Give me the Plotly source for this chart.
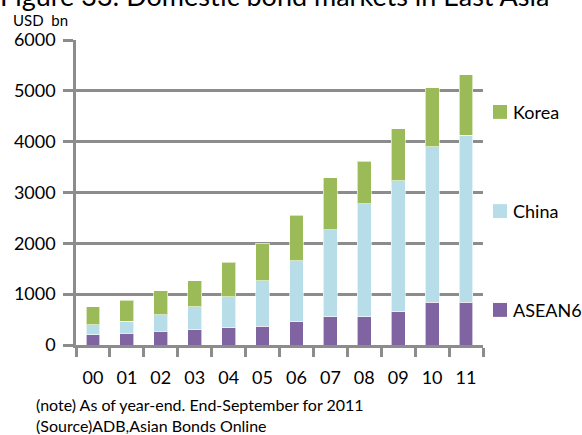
import plotly.graph_objects as go

years = ["00", "01", "02", "03", "04", "05", "06", "07", "08", "09", "10", "11"]
asean6 = [200, 235, 275, 300, 335, 365, 455, 560, 560, 655, 845, 845]
china = [200, 235, 325, 455, 615, 900, 1205, 1705, 2220, 2575, 3060, 3280]
korea = [355, 410, 470, 510, 675, 740, 890, 1025, 830, 1025, 1155, 1190]

series_names = ["ASEAN6", "China", "Korea"]
series_vals = [asean6, china, korea]
series_colors = ["#8064A2", "#B7DEE8", "#9BBB59"]
legend_values = [690, 2635, 4585]   # y level (data units) where each legend entry sits

FONT = "Lato, 'Open Sans', sans-serif"
GRID = "#8c8c8c"
W, H = 582, 435
L, R, T, B = 76, 99, 40, 90
PW, PH = W - L - R, H - T - B

fig = go.Figure()
for name, vals, col in zip(series_names, series_vals, series_colors):
    fig.add_trace(go.Bar(x=years, y=vals, name=name, showlegend=False,
                         marker=dict(color=col, line=dict(color="rgba(255,255,255,0.6)", width=1))))

fig.update_layout(
    barmode="stack",
    bargap=0.59,
    width=W, height=H,
    margin=dict(l=L, r=R, t=T, b=B),
    paper_bgcolor="white", plot_bgcolor="white",
    font=dict(family=FONT, size=18, color="black"),
    showlegend=False,
    xaxis=dict(showline=True, linecolor=GRID, linewidth=2.5,
               ticks="outside", tickson="boundaries", ticklen=9, tickwidth=2.5,
               tickcolor=GRID, showgrid=False, ticklabelstandoff=15,
               tickfont=dict(size=18), automargin=False),
    yaxis=dict(range=[0, 6000], dtick=1000, showgrid=True, gridcolor=GRID, gridwidth=2.5,
               showline=True, linecolor=GRID, linewidth=2.5, zeroline=False,
               ticks="outside", ticklen=10, tickwidth=2.5, tickcolor=GRID,
               tickfont=dict(size=18), ticklabelstandoff=4, automargin=False),
)

def px_x(p):
    return (p - L) / PW

def px_y(p):
    return 1 + (T - p) / PH

# manual legend (squares + labels) beside the plot
for name, col, yv in zip(series_names, series_colors, legend_values):
    fig.add_shape(type="rect", xref="paper", yref="y",
                  x0=px_x(493), x1=px_x(507), y0=yv - 137, y1=yv + 137,
                  fillcolor=col, line=dict(width=0))
    fig.add_annotation(text=name, xref="paper", yref="y", x=px_x(511), y=yv,
                       xanchor="left", yanchor="middle", showarrow=False,
                       font=dict(size=18))

fig.add_annotation(text="Figure 33: Domestic bond markets in East Asia", xref="paper", yref="paper",
                   x=px_x(-2), xanchor="left", y=px_y(-5), yanchor="middle",
                   showarrow=False, font=dict(size=27))
fig.add_annotation(text="USD&nbsp;&nbsp;bn", xref="paper", yref="paper", x=px_x(11), xanchor="left",
                   y=px_y(20), yanchor="middle", showarrow=False, font=dict(size=15))
fig.add_annotation(text="(note) As of year-end. End-September for 2011", xref="paper", yref="paper",
                   x=px_x(34), xanchor="left", y=px_y(404), yanchor="middle",
                   showarrow=False, font=dict(size=16))
fig.add_annotation(text="(Source)ADB,Asian Bonds Online", xref="paper", yref="paper",
                   x=px_x(34), xanchor="left", y=px_y(425), yanchor="middle",
                   showarrow=False, font=dict(size=16))

fig.write_html("out.html", config={"displayModeBar": False},
               post_script="document.body.style.margin='0';")
